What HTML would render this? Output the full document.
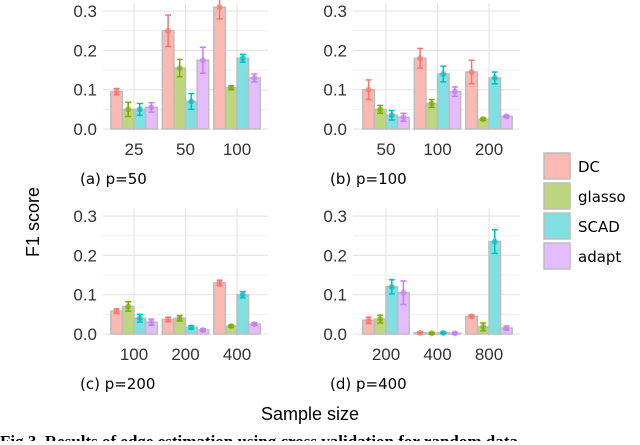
<!DOCTYPE html>
<html><head><meta charset="utf-8"><style>
body{margin:0;width:640px;height:441px;overflow:hidden;background:#fff;font-family:"DejaVu Sans","Liberation Sans",sans-serif}
</style></head><body>
<svg id="c" width="640" height="441" xmlns="http://www.w3.org/2000/svg"></svg>
<script>
const series=["DC","glasso","SCAD","adapt"];
const panelTitles=["(a) p=50","(b) p=100","(c) p=200","(d) p=400"];
const panelCats=[["25","50","100"],["50","100","200"],["100","200","400"],["200","400","800"]];
const valsA=[[.095,.05,.05,.055],[.25,.155,.07,.175],[.31,.105,.18,.13]];
const errA=[[.008,.018,.015,.012],[.04,.022,.02,.033],[.03,.005,.01,.01]];
const valsB=[[.1,.05,.035,.03],[.18,.065,.14,.095],[.145,.025,.13,.032]];
const errB=[[.025,.01,.012,.01],[.025,.01,.02,.012],[.03,.003,.015,.003]];
const valsC=[[.058,.07,.04,.03],[.037,.04,.017,.01],[.13,.02,.1,.025]];
const errC=[[.006,.012,.01,.008],[.006,.007,.004,.003],[.007,.003,.008,.003]];
const valsD=[[.035,.038,.12,.105],[.003,.002,.003,.002],[.045,.018,.235,.015]];
const errD=[[.008,.01,.018,.03],[.002,.002,.002,.002],[.003,.01,.03,.005]];
const yTicks=[0,0.1,0.2,0.3];
const yTickLabels=["0.0","0.1","0.2","0.3"];
const lineCol=["#F8766D","#7CAE00","#00BFC4","#C77CFF"];
const fillCol=["#FBB9B4","#BDD67F","#7FDFE1","#E3BDFF"];
const allVals=[valsA,valsB,valsC,valsD],allErr=[errA,errB,errC,errD];
const svg=document.getElementById('c');const NS="http://www.w3.org/2000/svg";
const LS='"Liberation Sans",Arial,sans-serif';
function mk(t,a,p){const e=document.createElementNS(NS,t);for(const k in a)e.setAttribute(k,a[k]);(p||svg).appendChild(e);return e;}
const panels=[{x0:103,x1:268,y0:129,ox:0},{x0:353,x1:520,y0:129,ox:252},{x0:103,x1:268,y0:334,ox:0},{x0:353,x1:520,y0:334,ox:252}];
panels.forEach((P,pi)=>{
  const g=mk('g',{});
  
  
  const y=v=>P.y0-v*393;
  const xc=i=>134+P.ox+i*51.5;
  for(let v=0.05;v<0.33;v+=0.1) mk('line',{x1:P.x0,x2:P.x1,y1:y(v),y2:y(v),stroke:'#f0f0f0','stroke-width':1},g);
  yTicks.forEach((v,i)=>{mk('line',{x1:P.x0,x2:P.x1,y1:y(v),y2:y(v),stroke:'#e6e6e6','stroke-width':1.2},g);
    const t=mk('text',{x:P.x0-6,y:y(v)+6,'text-anchor':'end','font-size':17,fill:'#333','font-family':LS},g);t.textContent=yTickLabels[i];
    });
  panelCats[pi].forEach((c,i)=>{mk('line',{x1:xc(i),x2:xc(i),y1:y(0.32),y2:P.y0+2,stroke:'#e6e6e6','stroke-width':1.2},g);
    const t=mk('text',{x:xc(i),y:P.y0+26,'text-anchor':'middle','font-size':17,fill:'#333','font-family':LS},g);t.textContent=c;
    });
  const bw=11.6;
  allVals[pi].forEach((grp,i)=>grp.forEach((v,s)=>{
    const bx=xc(i)-2*bw+s*bw;
    const r=mk('rect',{x:bx,y:y(v),width:bw,height:P.y0-y(v),fill:fillCol[s],stroke:'#bdbdbd','stroke-width':1.5},g);
    
    const e=allErr[pi][i][s],cx=bx+bw/2;
    mk('line',{x1:cx,x2:cx,y1:y(v+e),y2:y(v-e),stroke:lineCol[s],'stroke-width':1.5},g);
    mk('line',{x1:cx-3,x2:cx+3,y1:y(v+e),y2:y(v+e),stroke:lineCol[s],'stroke-width':1.5},g);
    mk('line',{x1:cx-3,x2:cx+3,y1:y(v-e),y2:y(v-e),stroke:lineCol[s],'stroke-width':1.5},g);
    mk('circle',{cx:cx,cy:y(v),r:3,fill:lineCol[s],'fill-opacity':.7},g);
  }));
  const t=mk('text',{x:P.x0-23,y:P.y0+55,'font-size':15,fill:'#000'},g);t.textContent=panelTitles[pi];
  
});
let t=mk('text',{x:310,y:420,'text-anchor':'middle','font-size':18,fill:'#000','font-family':LS});t.textContent='Sample size';

t=mk('text',{x:0,y:0,'text-anchor':'middle','font-size':18,fill:'#000','font-family':LS,transform:'translate(39,222) rotate(-90)'});t.textContent='F1 score';

series.forEach((s,i)=>{
  const g=mk('g',{});
  
  const yy=153+i*30;
  mk('rect',{x:544,y:yy,width:26,height:26,fill:fillCol[i],stroke:'#bdbdbd','stroke-width':1.5},g);
  const tt=mk('text',{x:578,y:yy+19,'font-size':15,fill:'#000'},g);tt.textContent=s;
});
t=mk('text',{x:0,y:447,'font-size':17,'font-weight':'bold','font-family':'"Liberation Serif",serif',fill:'#000'});t.textContent='Fig.3. Results of edge estimation using cross validation for random data';

</script>
</body></html>
